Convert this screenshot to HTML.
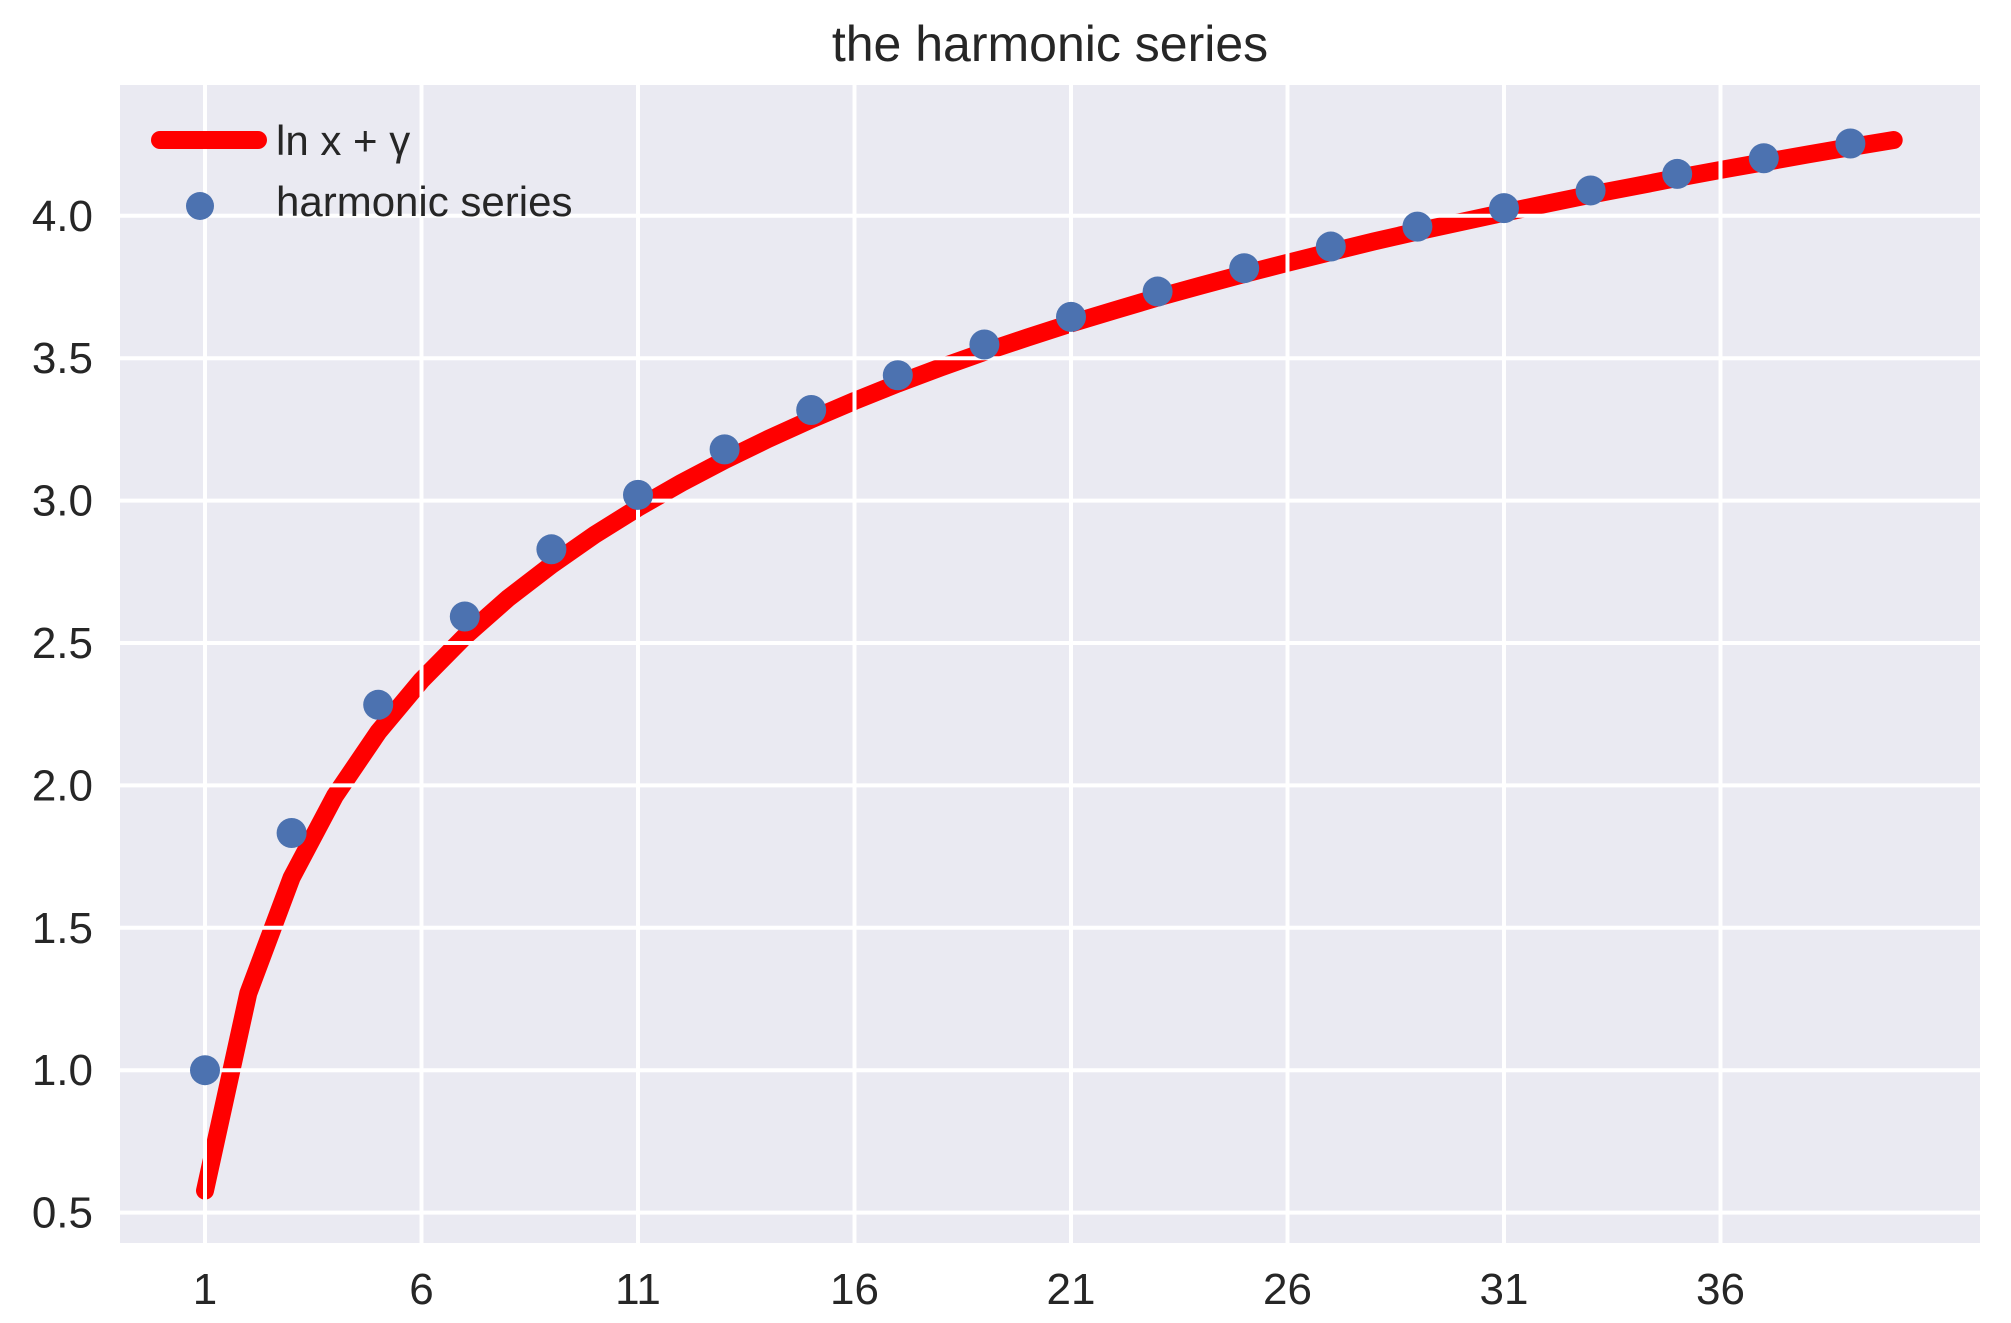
<!DOCTYPE html>
<html><head><meta charset="utf-8"><style>
body{margin:0;background:#fff}
svg{display:block;font-family:"Liberation Sans",sans-serif}
</style></head><body>
<svg id="chart" width="2011" height="1323">
<rect x="120" y="85" width="1860" height="1158" fill="#eaeaf2"/>
<g id="lineLayer"></g><g id="grid"></g><g id="dots"></g><g id="ticks"></g>
<text x="1050" y="61" font-size="50" text-anchor="middle" fill="#262626">the harmonic series</text>
<g>
<line x1="160" y1="140" x2="258" y2="140" stroke="#ff0000" stroke-width="18" stroke-linecap="round"/>
<text x="276" y="155" font-size="42" fill="#262626">ln x + γ</text>
<circle cx="200" cy="206" r="14" fill="#4c72b0"/>
<text x="276" y="216" font-size="42" fill="#262626">harmonic series</text>
</g>
</svg>
<script>
const lineX=[1,2,3,4,5,6,7,8,9,10,11,12,13,14,15,16,17,18,19,20,21,22,23,24,25,26,27,28,29,30,31,32,33,34,35,36,37,38,39,40];
const lineY=[0.577,1.270,1.676,1.963,2.187,2.369,2.523,2.657,2.774,2.880,2.975,3.062,3.142,3.216,3.285,3.350,3.411,3.468,3.522,3.573,3.622,3.668,3.713,3.755,3.796,3.835,3.873,3.910,3.945,3.978,4.011,4.043,4.074,4.103,4.133,4.161,4.188,4.215,4.241,4.266];
const dotX=[1,3,5,7,9,11,13,15,17,19,21,23,25,27,29,31,33,35,37,39];
const dotY=[1,1.833,2.283,2.593,2.829,3.020,3.180,3.318,3.440,3.548,3.645,3.734,3.816,3.892,3.962,4.027,4.089,4.147,4.202,4.254];
const xTicks=[1,6,11,16,21,26,31,36];
const yTicks=[0.5,1.0,1.5,2.0,2.5,3.0,3.5,4.0];
const NS="http://www.w3.org/2000/svg";
const X=v=>205+(v-1)*43.3;
const Y=v=>215.8+(4.0-v)*284.8;
function mk(t,a,p){const e=document.createElementNS(NS,t);for(const k in a)e.setAttribute(k,a[k]);p.appendChild(e);return e;}
const grid=document.getElementById('grid'),ticks=document.getElementById('ticks');
xTicks.forEach(v=>{
 const l=mk('line',{x1:X(v),x2:X(v),y1:85,y2:1243,stroke:'#fff','stroke-width':4},grid);
 
 
 const t=mk('text',{x:X(v),y:1304,'font-size':44,'text-anchor':'middle',fill:'#262626'},ticks);
 t.textContent=v;
 
 
});
yTicks.forEach(v=>{
 const l=mk('line',{x1:120,x2:1980,y1:Y(v),y2:Y(v),stroke:'#fff','stroke-width':4},grid);
 
 
 const t=mk('text',{x:93,y:Y(v)+15,'font-size':44,'text-anchor':'end',fill:'#262626'},ticks);
 t.textContent=v.toFixed(1);
 
 
});
const p=mk('polyline',{points:lineX.map((x,i)=>X(x)+','+Y(lineY[i])).join(' '),fill:'none',stroke:'#ff0000','stroke-width':18,'stroke-linecap':'round','stroke-linejoin':'round'},document.getElementById('lineLayer'));


dotX.forEach((x,i)=>{
 const c=mk('circle',{cx:X(x),cy:Y(dotY[i]),r:15,fill:'#4c72b0'},document.getElementById('dots'));
 
 
});
</script>
</body></html>
